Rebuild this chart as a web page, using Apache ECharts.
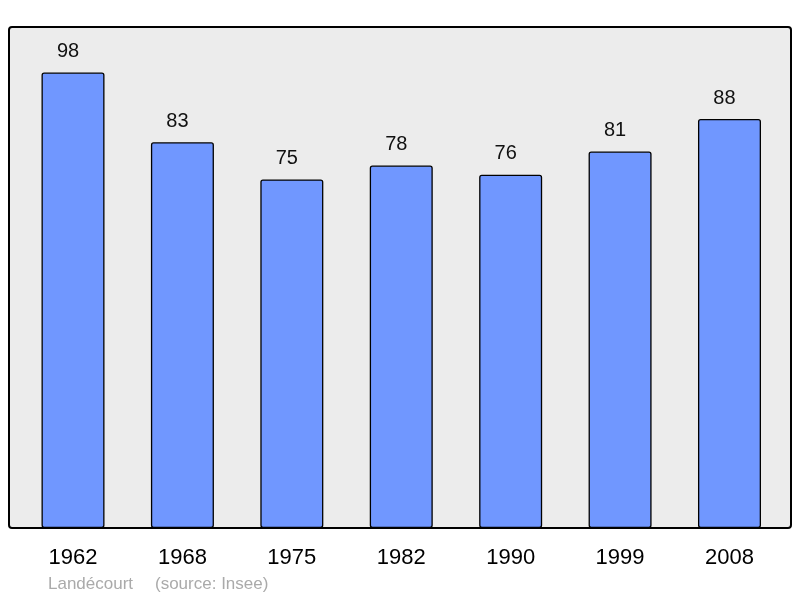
<!DOCTYPE html>
<html><head><meta charset="utf-8">
<script src="https://cdn.jsdelivr.net/npm/echarts@6/dist/echarts.min.js"></script>
<style>html,body{margin:0;padding:0;background:#fff}#c{width:800px;height:598px}</style>
</head><body><div id="c"></div>
<script>
const years = ['1962','1968','1975','1982','1990','1999','2008'];
const population = [98, 83, 75, 78, 76, 81, 88];
const footerPlace = 'Landécourt';
const footerSource = '(source: Insee)';

const chart = echarts.init(document.getElementById('c'));
chart.setOption({
  animation: false,
  backgroundColor: '#ffffff',
  textStyle: { fontFamily: 'Liberation Sans, Arial, sans-serif' },
  graphic: [
    { type: 'rect', z: -1, shape: { x: 9, y: 27, width: 782, height: 501, r: 3 },
      style: { fill: '#ececec', stroke: '#000', lineWidth: 2 } },
    { type: 'text', left: 48, top: 576,
      style: { text: footerPlace, fill: '#aaaaaa', font: '17px "Liberation Sans", Arial, sans-serif' } },
    { type: 'text', left: 155, top: 576,
      style: { text: footerSource, fill: '#aaaaaa', font: '17px "Liberation Sans", Arial, sans-serif' } }
  ],
  grid: { left: 18.3, right: 15.8, top: 27, bottom: 70 },
  xAxis: {
    type: 'category', data: years,
    axisLine: { show: false }, axisTick: { show: false },
    axisLabel: { color: '#000', fontSize: 22, margin: 19 }
  },
  yAxis: {
    type: 'value', min: 0, max: 107.8,
    show: false, splitLine: { show: false }
  },
  series: [{
    type: 'bar', data: population, barWidth: 63,
    itemStyle: { color: '#7097ff', borderColor: '#000', borderWidth: 1.3, borderRadius: 2 },
    label: { show: true, position: 'top', distance: 11, offset: [-5, 0], color: '#111', fontSize: 20 }
  }]
});
</script></body></html>
